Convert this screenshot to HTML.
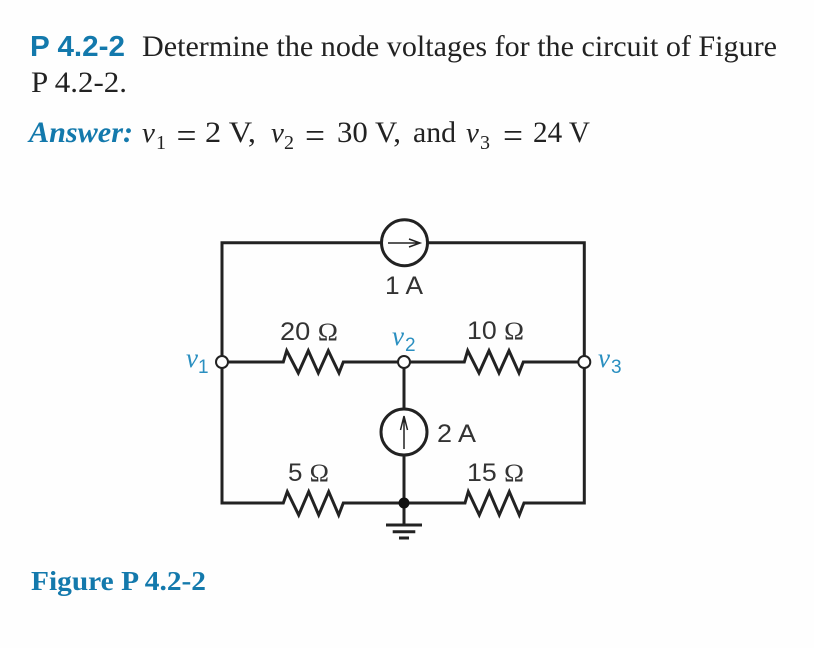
<!DOCTYPE html>
<html><head><meta charset="utf-8"><style>
html,body{margin:0;padding:0;background:#fff}
svg{display:block}
.s{font-family:"Liberation Serif",serif}
.h{font-family:"Liberation Sans",sans-serif}
</style></head><body>
<svg width="814" height="648" viewBox="0 0 814 648" xmlns="http://www.w3.org/2000/svg">
<rect width="814" height="648" fill="#fefefe"/>
<g fill="#222">
<text x="30" y="56" class="h" font-size="29" font-weight="bold" fill="#1379ac" textLength="95" lengthAdjust="spacingAndGlyphs">P 4.2-2</text>
<text x="142" y="56" class="s" font-size="29.5" textLength="635" lengthAdjust="spacingAndGlyphs">Determine the node voltages for the circuit of Figure</text>
<text x="31" y="92" class="s" font-size="29.5" textLength="96" lengthAdjust="spacingAndGlyphs">P 4.2-2.</text>
<text x="29" y="142" class="s" font-size="30" font-weight="bold" font-style="italic" fill="#1379ac" textLength="104" lengthAdjust="spacingAndGlyphs">Answer:</text>
<text x="142" y="142" class="s" font-size="29" font-style="italic">v</text><text x="156" y="149" class="s" font-size="20">1</text>
<text x="176.5" y="147.5" class="s" font-size="36" textLength="20" lengthAdjust="spacingAndGlyphs">=</text>
<text x="205" y="142" class="s" font-size="29.5" textLength="51" lengthAdjust="spacingAndGlyphs">2 V,</text>
<text x="271" y="142" class="s" font-size="29" font-style="italic">v</text><text x="284" y="149" class="s" font-size="20">2</text>
<text x="305" y="147.5" class="s" font-size="36" textLength="20" lengthAdjust="spacingAndGlyphs">=</text>
<text x="337" y="142" class="s" font-size="29.5" textLength="64" lengthAdjust="spacingAndGlyphs">30 V,</text>
<text x="413" y="142" class="s" font-size="29.5" textLength="43" lengthAdjust="spacingAndGlyphs">and</text>
<text x="466" y="142" class="s" font-size="29" font-style="italic">v</text><text x="480" y="149" class="s" font-size="20">3</text>
<text x="503" y="147.5" class="s" font-size="36" textLength="20" lengthAdjust="spacingAndGlyphs">=</text>
<text x="533" y="142" class="s" font-size="29.5" textLength="57" lengthAdjust="spacingAndGlyphs">24 V</text>
<text x="31" y="590" class="s" font-size="27" font-weight="bold" fill="#1379ac" textLength="175" lengthAdjust="spacingAndGlyphs">Figure P 4.2-2</text>
</g>
<g fill="none" stroke="#222" stroke-width="3">
<path d="M381 242.7H222V503H283.3L287.3 491.7 298.7 515 308.7 491.7 318.7 515 328.7 491.7 338.7 515 343.3 503H465L468.3 491.7 479.3 515 489.3 491.7 499.3 515 509.3 491.7 519.3 515 524 503H584.3V242.7H428"/>
<path d="M222 362H283.3L286.7 350.7 298.3 373 308.3 350.7 318.3 373 328.3 350.7 339 373 343.3 362H464.3L467.7 350.7 479 373 489 350.7 499 373 509 350.7 519 373 523.3 362H584.3"/>
<path d="M404 362V409M404 455V525"/>
<path d="M386 525H422M392.7 531.7H415.3M399 538H409"/>
<circle cx="404.5" cy="242.7" r="23" fill="#fff"/>
<circle cx="404" cy="432" r="23" fill="#fff"/>
</g>
<g fill="none" stroke="#222" stroke-width="1.5">
<path d="M388 243H420M409 239L420 243 409 247"/>
<path d="M404 449V416M400.5 430L404 416 407.5 430"/>
</g>
<g fill="#fff" stroke="#222" stroke-width="2">
<circle cx="222" cy="362" r="6"/>
<circle cx="404" cy="362" r="6"/>
<circle cx="584.3" cy="362" r="6"/>
</g>
<circle cx="404" cy="503" r="5.5" fill="#111"/>
<g font-size="25" fill="#333" font-family="'Liberation Sans',sans-serif">
<text x="385" y="294" textLength="38" lengthAdjust="spacingAndGlyphs">1 A</text>
<text x="280" y="340" textLength="58" lengthAdjust="spacingAndGlyphs">20 <tspan font-family="'Liberation Serif',serif">Ω</tspan></text>
<text x="467" y="339" textLength="57" lengthAdjust="spacingAndGlyphs">10 <tspan font-family="'Liberation Serif',serif">Ω</tspan></text>
<text x="437" y="442" textLength="39" lengthAdjust="spacingAndGlyphs">2 A</text>
<text x="288" y="481" textLength="41" lengthAdjust="spacingAndGlyphs">5 <tspan font-family="'Liberation Serif',serif">Ω</tspan></text>
<text x="467" y="481" textLength="57" lengthAdjust="spacingAndGlyphs">15 <tspan font-family="'Liberation Serif',serif">Ω</tspan></text>
</g>
<g fill="#2a8fc0">
<text x="186" y="367" font-family="'Liberation Serif',serif" font-style="italic" font-size="27">v</text>
<text x="198" y="373" font-family="'Liberation Sans',sans-serif" font-size="19">1</text>
<text x="392" y="345" font-family="'Liberation Serif',serif" font-style="italic" font-size="27">v</text>
<text x="405" y="351" font-family="'Liberation Sans',sans-serif" font-size="19">2</text>
<text x="598" y="367" font-family="'Liberation Serif',serif" font-style="italic" font-size="27">v</text>
<text x="611" y="373" font-family="'Liberation Sans',sans-serif" font-size="19">3</text>
</g>
</svg>
</body></html>
